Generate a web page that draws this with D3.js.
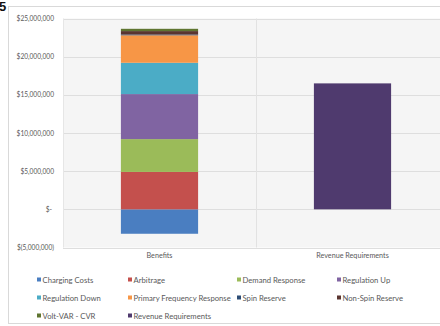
<!DOCTYPE html>
<html><head><meta charset="utf-8">
<script src="https://cdn.jsdelivr.net/npm/d3@7"></script>
<style>html,body{margin:0;padding:0;background:#fff;}svg{display:block;}</style>
</head><body>
<svg id="c" width="440" height="326"></svg>
<script>
const categories = ["Benefits", "Revenue Requirements"];
const seriesNames = ["Charging Costs","Arbitrage","Demand Response","Regulation Up","Regulation Down","Primary Frequency Response","Spin Reserve","Non-Spin Reserve","Volt-VAR - CVR","Revenue Requirements"];
const seriesColors = ["#4a7ec1","#c4504d","#9bbb59","#8064a2","#4bacc6","#f79646","#2c4d75","#5a3530","#5f7530","#4f3a6e"];
const benefitsValues = [-3200000, 4900000, 4300000, 5900000, 4100000, 3600000, 100000, 450000, 300000, 0];
const revenueValues  = [0, 0, 0, 0, 0, 0, 0, 0, 0, 16500000];
const yTicks = [-5000000, 0, 5000000, 10000000, 15000000, 20000000, 25000000];

const svg = d3.select("#c");
const font = "Lato, 'Open Sans', sans-serif";
const txt = "#595959";

// top-left artifact
svg.append("text").attr("x",-1).attr("y",11).attr("font-family","Arial").attr("font-weight","bold").attr("font-size",13).attr("fill","#111").text("5");

// chart border
svg.append("rect").attr("x",8.5).attr("y",6.5).attr("width",440).attr("height",317).attr("fill","#fff").attr("stroke","#d9d9d9");

const x = d3.scaleBand().domain(categories).range([63, 449]).paddingInner(0.6).paddingOuter(0.3);
const y = d3.scaleLinear().domain([-5000000, 25000000]).range([247.5, 18.5]);

// plot area
svg.append("rect").attr("x",63).attr("y",y(25000000)).attr("width",386).attr("height",y(-5000000)-y(25000000)).attr("fill","#f5f5f5");

// grid
svg.append("g").selectAll("line").data(yTicks).join("line")
  .attr("x1",63).attr("x2",449).attr("y1",d=>Math.round(y(d))+0.5).attr("y2",d=>Math.round(y(d))+0.5)
  .attr("stroke","#dedede").attr("stroke-width",1);
// category separator
const step = x.step();
svg.append("line").attr("x1",63+step+0.5).attr("x2",63+step+0.5).attr("y1",y(25000000)).attr("y2",y(-5000000)).attr("stroke","#e2e2e2");
svg.append("line").attr("x1",63.5).attr("x2",63.5).attr("y1",y(25000000)).attr("y2",y(-5000000)).attr("stroke","#e6e6e6");

// y axis labels
const fmt = v => v === 0 ? "$-" : (v < 0 ? "$(" + d3.format(",")(-v) + ")" : "$" + d3.format(",")(v));
const yAxis = d3.axisLeft(y).tickValues(yTicks).tickFormat(fmt).tickSize(0).tickPadding(0);
const ga = svg.append("g").attr("transform","translate(54,0)").call(yAxis);
ga.select(".domain").remove();
ga.selectAll("text").attr("font-family",font).attr("font-size",6.6).attr("fill",txt);
ga.selectAll(".tick").filter(d=>d===0).select("text").attr("dx",-2);

// stacked bars
const rows = categories.map((c,i)=>{ const o={cat:c}; seriesNames.forEach((s,j)=>{o[s]= i===0?benefitsValues[j]:revenueValues[j];}); return o;});
const stack = d3.stack().keys(seriesNames).offset(d3.stackOffsetDiverging);
const layers = stack(rows);
const color = d3.scaleOrdinal().domain(seriesNames).range(seriesColors);
svg.append("g").selectAll("g").data(layers).join("g").attr("fill",d=>color(d.key))
  .selectAll("rect").data(d=>d).join("rect")
  .attr("x",d=>x(d.data.cat)).attr("width",x.bandwidth())
  .attr("y",d=>y(Math.max(d[0],d[1]))).attr("height",d=>Math.abs(y(d[0])-y(d[1])));

// category labels
const xAxis = d3.axisBottom(x).tickSize(0).tickPadding(0);
const gx = svg.append("g").attr("transform","translate(0,256)").call(xAxis);
gx.select(".domain").remove();
gx.selectAll("text").attr("font-family",font).attr("font-size",7.2).attr("fill",txt).attr("dy","0.3em");

// legend
const colX = [37, 128, 237, 337];
const rowY = [280, 298, 316];
const lg = svg.append("g").selectAll("g").data(seriesNames).join("g")
  .attr("transform",(d,i)=>`translate(${colX[i%4]},${rowY[Math.floor(i/4)]})`);
lg.append("rect").attr("x",0).attr("y",-2.5).attr("width",4).attr("height",4).attr("fill",d=>color(d));
lg.append("text").attr("x",5.5).attr("y",0).attr("dy","0.35em").attr("font-family",font).attr("font-size",7.7).attr("fill",txt).text(d=>d);
</script>
</body></html>
